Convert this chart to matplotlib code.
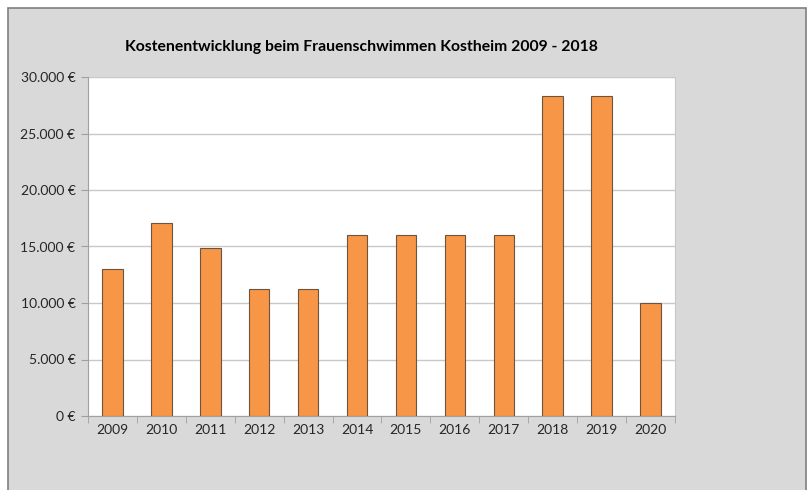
import matplotlib
matplotlib.use("Agg")
import matplotlib.pyplot as plt
from matplotlib.patches import Rectangle

years = ["2009", "2010", "2011", "2012", "2013", "2014", "2015", "2016", "2017", "2018", "2019", "2020"]
costs = [13000, 17100, 14900, 11200, 11200, 16000, 16000, 16000, 16000, 28300, 28300, 10000]
yticks = [0, 5000, 10000, 15000, 20000, 25000, 30000]
ytick_labels = ["0 €", "5.000 €", "10.000 €", "15.000 €", "20.000 €", "25.000 €", "30.000 €"]
title = "Kostenentwicklung beim Frauenschwimmen Kostheim 2009 - 2018"

plt.rcParams['font.family'] = ['Lato', 'DejaVu Sans']

W, H = 807, 490
fig = plt.figure(figsize=(W/100, H/100), dpi=100)
fig.patch.set_facecolor('white')
# grey chart area with border
bg = Rectangle((8/W, -0.01), (806 - 8)/W, 1.01 - 8/H, transform=fig.transFigure,
               facecolor='#d9d9d9', edgecolor='#7f7f7f', linewidth=1.2, zorder=-10)
fig.patches.append(bg)

left, right, top, bottom = 88, 675, 77, 416
ax = fig.add_axes([left/W, 1 - bottom/H, (right-left)/W, (bottom-top)/H])
ax.set_zorder(5)
ax.set_facecolor('white')

x = list(range(len(years)))
ax.bar(x, costs, width=0.42, color='#f79646', edgecolor='#6b5440', linewidth=0.8, zorder=3)

ax.set_xlim(-0.5, len(years) - 0.5)
ax.set_ylim(0, 30000)
ax.set_yticks(yticks)
ax.set_yticklabels(ytick_labels, fontsize=10, color='#262626')
ax.yaxis.grid(True, color='#c8c8c8', linewidth=1.0, zorder=0)
ax.set_axisbelow(True)

ax.set_xticks(x)
ax.set_xticklabels(years, fontsize=10, color='#262626')
ax.tick_params(axis='x', length=0, pad=6)
ax.set_xticks([i + 0.5 for i in range(-1, len(years))], minor=True)
ax.tick_params(axis='x', which='minor', length=5, color='#a0a0a0', direction='out')
ax.tick_params(axis='y', length=5, color='#a0a0a0', direction='out', pad=4)

ax.spines['top'].set_visible(False)
ax.spines['right'].set_color('#c8c8c8')
ax.spines['left'].set_color('#a0a0a0')
ax.spines['bottom'].set_color('#a0a0a0')

fig.text(361/W, 1 - 47/H, title, ha='center', va='center', fontsize=11.3, fontweight='bold')

fig.savefig('out.png', dpi=100, facecolor=fig.get_facecolor())
